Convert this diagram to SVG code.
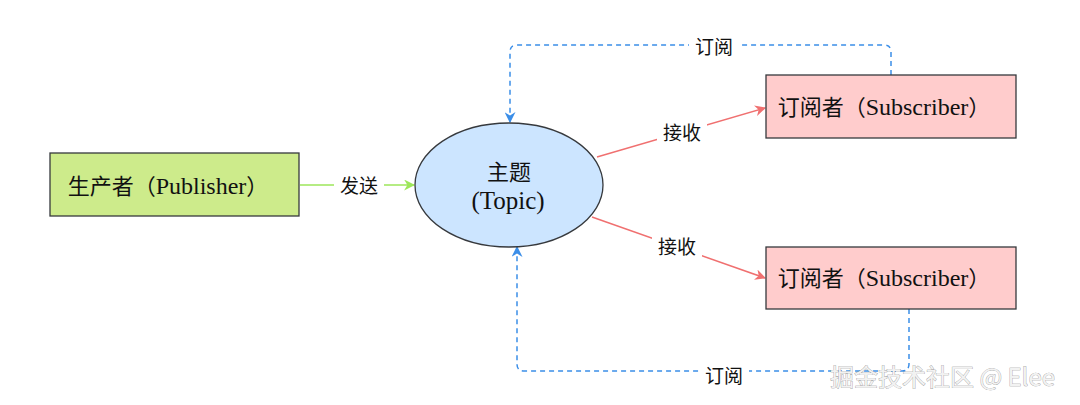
<svg xmlns="http://www.w3.org/2000/svg" width="1080" height="405" viewBox="0 0 1080 405">
<style>
.node{stroke:#36393d;stroke-width:1.3}
.t{font-family:"Liberation Serif","Noto Sans CJK SC",serif;font-size:22px;fill:#111;text-anchor:middle;dominant-baseline:central}
.l{font-size:24px}
.lbl{font-family:"Liberation Serif","Noto Sans CJK SC",serif;font-size:19px;fill:#111;text-anchor:middle;dominant-baseline:central}
.bg{fill:#fff}
.red{stroke:#f07070;stroke-width:1.5;fill:none}
.green{stroke:#9de65a;stroke-width:1.5;fill:none}
.blue{stroke:#3b8ee8;stroke-width:1.5;fill:none;stroke-dasharray:5 4}
.wm{font-family:"Noto Sans CJK SC","Noto Sans",sans-serif;font-size:24px;fill:#f2f2f2;stroke:#8a8a8a;stroke-width:0.6;paint-order:stroke}
</style>
<defs>
<marker id="ar" viewBox="0 0 10 10" refX="9" refY="5" markerWidth="11" markerHeight="11" markerUnits="userSpaceOnUse" orient="auto"><path d="M0,0 L10,5 L0,10 L3,5 Z" fill="#f07070"/></marker>
<marker id="ag" viewBox="0 0 10 10" refX="9" refY="5" markerWidth="11" markerHeight="11" markerUnits="userSpaceOnUse" orient="auto"><path d="M0,0 L10,5 L0,10 L3,5 Z" fill="#9de65a"/></marker>
<marker id="ab" viewBox="0 0 10 10" refX="9" refY="5" markerWidth="11" markerHeight="11" markerUnits="userSpaceOnUse" orient="auto"><path d="M0,0 L10,5 L0,10 L3,5 Z" fill="#3b8ee8"/></marker>
</defs>
<rect width="1080" height="405" fill="#fff"/>
<g id="connectors">
<path class="green" d="M300,185 L414,185" marker-end="url(#ag)"/>
<rect class="bg" x="334" y="174" width="50" height="24"/>
<text class="lbl" x="359" y="186">发送</text>
<path class="red" d="M597,157 L765,108" marker-end="url(#ar)"/>
<rect class="bg" x="657" y="121" width="50" height="24"/>
<text class="lbl" x="682" y="133">接收</text>
<path class="red" d="M592,217 L765,278" marker-end="url(#ar)"/>
<rect class="bg" x="652" y="235" width="50" height="24"/>
<text class="lbl" x="677" y="247">接收</text>
<path class="blue" d="M891,75 L891,52 Q891,45 884,45 L517,45 Q510,45 510,52 L510,122" marker-end="url(#ab)"/>
<rect class="bg" x="689" y="35" width="50" height="24"/>
<text class="lbl" x="714" y="47">订阅</text>
<path class="blue" d="M909,309 L909,364 Q909,371 902,371 L524,371 Q517,371 517,364 L517,247" marker-end="url(#ab)"/>
<rect class="bg" x="699" y="364" width="50" height="24"/>
<text class="lbl" x="724" y="376">订阅</text>
</g>
<g id="publisher">
<rect class="node" x="50" y="153" width="249" height="63" fill="#cdeb8b"/>
<text class="t" x="168" y="186">生产者（<tspan class="l">Publisher</tspan>）</text>
</g>
<g id="topic">
<ellipse class="node" cx="509" cy="185" rx="94" ry="62" fill="#cce5ff"/>
<text class="t" x="509" y="172">主题</text>
<text class="t" x="508" y="200" style="font-size:25px">(Topic)</text>
</g>
<g id="subscriber1">
<rect class="node" x="766" y="75" width="250" height="63" fill="#ffcccc"/>
<text class="t" x="884" y="107">订阅者（<tspan class="l">Subscriber</tspan>）</text>
</g>
<g id="subscriber2">
<rect class="node" x="766" y="247" width="250" height="62" fill="#ffcccc"/>
<text class="t" x="884" y="278">订阅者（<tspan class="l">Subscriber</tspan>）</text>
</g>
<text class="wm" x="830" y="386">掘金技术社区 @ Elee</text>
</svg>
